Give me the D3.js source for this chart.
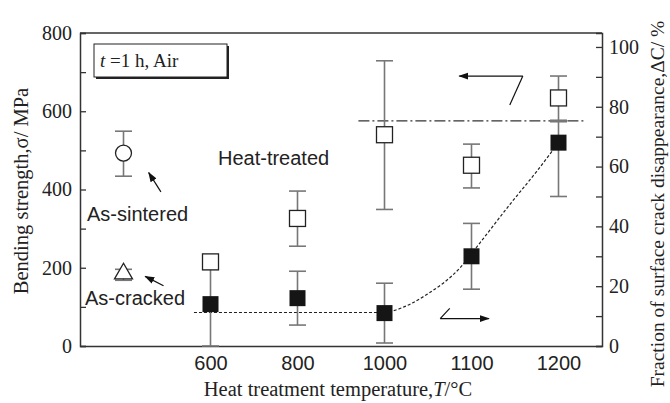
<!DOCTYPE html>
<html lang="en">
<head>
<meta charset="UTF-8">
<title>Bending strength vs heat treatment temperature</title>
<style>
  body { margin: 0; background: #fff; }
  svg text { fill: #222; }
  .serif { font-family: "Liberation Serif", "Times New Roman", serif; }
  .sans { font-family: "Liberation Sans", Arial, sans-serif; }
</style>
</head>
<body>
<div id="chart"></div>
<script src="https://cdn.jsdelivr.net/npm/d3@7"></script>
<script>
// x positions are category slots: 0 = as-sintered / as-cracked, 1..5 = heat treatment temperatures
const tempLabels = ["600", "800", "1000", "1100", "1200"];
const tempSlots = [1, 2, 3, 4, 5];

// heat-treated bending strength (open squares, left axis, MPa)
const strength = [215, 326, 540, 462, 634];
const strengthLo = [196, 255, 349, 404, 577];
const strengthHi = [232, 396, 729, 516, 690];

// fraction of surface crack disappearance (filled squares, right axis, %)
const fraction = [14, 16, 11, 30, 68];
const fractionLo = [0, 7, 1, 19, 50];
const fractionHi = [30, 25, 21, 41, 75];

// reference samples (slot 0)
const sintered = { v: 493, lo: 434, hi: 549 };
const cracked = { v: 185, lo: 168, hi: 196 };

// trend line of the crack fraction
const trendSlot = [0.81, 3.0, 3.1, 3.49, 3.87, 4.1, 4.44, 4.75, 5.0];
const trendVal = [11.2, 11.2, 11.8, 17.3, 26.2, 34.6, 47.3, 58.4, 68];

// saturation level (dash-dot, right axis)
const levelVal = 75.3;
const levelSlots = [2.7, 5.3];

const W = 670, H = 403;
const PL = 80, PR = 602, PT = 33, PB = 346;

const svg = d3.select("#chart").append("svg")
  .attr("width", W).attr("height", H);

const x = d3.scaleLinear().domain([-0.5, 5.5]).range([PL, PR]);
const yL = d3.scaleLinear().domain([0, 800]).range([PB, PT]);
const yR = d3.scaleLinear().domain([0, 104.67]).range([PB, PT]);

const AXIS = "#333";
const BAR = "#777";

// axes
const gL = svg.append("g").attr("transform", `translate(${PL},0)`)
  .call(d3.axisLeft(yL).tickValues(d3.range(0, 801, 100)).tickSize(-6).tickPadding(8)
    .tickFormat(d => d % 200 === 0 ? d : ""));
const gR = svg.append("g").attr("transform", `translate(${PR},0)`)
  .call(d3.axisRight(yR).tickValues(d3.range(0, 101, 10)).tickSize(-6).tickPadding(7)
    .tickFormat(d => d % 20 === 0 ? d : ""));
[gL, gR].forEach(g => {
  g.select(".domain").attr("stroke", AXIS).attr("stroke-width", 1.5);
  g.selectAll(".tick line").attr("stroke", AXIS).attr("stroke-width", 1.3);
  g.selectAll(".tick text").attr("class", "serif").attr("font-size", 20).attr("fill", "#222");
});
const gB = svg.append("g").attr("transform", `translate(0,${PB})`)
  .call(d3.axisBottom(x).tickValues(tempSlots).tickSize(0).tickPadding(10)
    .tickFormat((d, i) => tempLabels[i]));
gB.select(".domain").attr("stroke", AXIS).attr("stroke-width", 1.5);
gB.selectAll(".tick text").attr("class", "sans").attr("font-size", 20).attr("fill", "#222");
svg.append("line").attr("x1", PL).attr("x2", PR).attr("y1", PT).attr("y2", PT)
  .attr("stroke", AXIS).attr("stroke-width", 1.5);

// axis titles
svg.append("text").attr("class", "serif").attr("font-size", 20.5)
  .attr("text-anchor", "middle")
  .attr("transform", `translate(21,191) rotate(-90)`).attr("dy", "0.35em")
  .text("Bending strength,σ/ MPa");
svg.append("text").attr("class", "serif").attr("font-size", 19.5)
  .attr("text-anchor", "middle")
  .attr("transform", `translate(657,204) rotate(-90)`).attr("dy", "0.35em")
  .text("Fraction of surface crack disappearance,ΔC/ %");
const xt = svg.append("text").attr("class", "serif").attr("font-size", 20.5)
  .attr("text-anchor", "middle").attr("x", 338).attr("y", 396);
xt.append("tspan").text("Heat treatment temperature,");
xt.append("tspan").attr("font-style", "italic").text("T");
xt.append("tspan").text("/°C");

// lines
const line = d3.line().x(d => x(d[0])).y(d => yR(d[1])).curve(d3.curveMonotoneX);
svg.append("path").datum(trendSlot.map((s, i) => [s, trendVal[i]]))
  .attr("d", line).attr("fill", "none").attr("stroke", "#222")
  .attr("stroke-width", 1.2).attr("stroke-dasharray", "3,2");
svg.append("line")
  .attr("x1", x(levelSlots[0])).attr("x2", x(levelSlots[1]))
  .attr("y1", yR(levelVal)).attr("y2", yR(levelVal))
  .attr("stroke", "#333").attr("stroke-width", 1.2).attr("stroke-dasharray", "11,3,2,3");

// error bars
function errBar(cx, y0, y1) {
  const g = svg.append("g").attr("stroke", BAR).attr("stroke-width", 1.6);
  g.append("line").attr("x1", cx).attr("x2", cx).attr("y1", y0).attr("y2", y1);
  [y0, y1].forEach(yy => g.append("line").attr("x1", cx - 8.5).attr("x2", cx + 8.5)
    .attr("y1", yy).attr("y2", yy));
}
tempSlots.forEach((s, i) => errBar(x(s), yL(strengthLo[i]), yL(strengthHi[i])));
tempSlots.forEach((s, i) => errBar(x(s), yR(fractionLo[i]), yR(fractionHi[i])));
errBar(x(0), yL(sintered.lo), yL(sintered.hi));
errBar(x(0), yL(cracked.lo), yL(cracked.hi));

// markers
const SQ = 16;
svg.selectAll("rect.open").data(tempSlots).join("rect").attr("class", "open")
  .attr("x", d => x(d) - SQ / 2).attr("y", (d, i) => yL(strength[i]) - SQ / 2)
  .attr("width", SQ).attr("height", SQ)
  .attr("fill", "#fff").attr("stroke", "#222").attr("stroke-width", 1.3);
svg.selectAll("rect.fill").data(tempSlots).join("rect").attr("class", "fill")
  .attr("x", d => x(d) - SQ / 2).attr("y", (d, i) => yR(fraction[i]) - SQ / 2)
  .attr("width", SQ).attr("height", SQ).attr("fill", "#151515");
svg.append("circle").attr("cx", x(0)).attr("cy", yL(sintered.v)).attr("r", 8)
  .attr("fill", "#fff").attr("stroke", "#222").attr("stroke-width", 1.3);
svg.append("path").attr("d", d3.symbol(d3.symbolTriangle, 140)())
  .attr("transform", `translate(${x(0)},${yL(cracked.v)})`)
  .attr("fill", "#fff").attr("stroke", "#222").attr("stroke-width", 1.3);

// arrows
svg.append("defs").append("marker").attr("id", "head")
  .attr("viewBox", "0 0 10 10").attr("refX", 9).attr("refY", 5)
  .attr("markerWidth", 10).attr("markerHeight", 10).attr("markerUnits", "userSpaceOnUse")
  .attr("orient", "auto")
  .append("path").attr("d", "M0,1.5L10,5L0,8.5Z").attr("fill", "#111");
function arrow(s0, v0, s1, v1, y) {
  svg.append("line").attr("x1", x(s0)).attr("y1", y(v0)).attr("x2", x(s1)).attr("y2", y(v1))
    .attr("stroke", "#111").attr("stroke-width", 1.2).attr("marker-end", "url(#head)");
}
function stroke(s0, v0, s1, v1, y) {
  svg.append("line").attr("x1", x(s0)).attr("y1", y(v0)).attr("x2", x(s1)).attr("y2", y(v1))
    .attr("stroke", "#111").attr("stroke-width", 1.2);
}
arrow(4.59, 690, 3.86, 690, yL);
stroke(4.59, 690, 4.44, 616, yL);
arrow(3.64, 70, 4.2, 70, yL);
stroke(3.64, 70, 3.75, 96, yL);
arrow(0.43, 394, 0.29, 443, yL);
arrow(0.46, 154, 0.25, 178, yL);

// annotations
svg.append("text").attr("class", "sans").attr("font-size", 20).attr("x", 218).attr("y", 165)
  .text("Heat-treated");
svg.append("text").attr("class", "sans").attr("font-size", 20).attr("x", 87).attr("y", 221)
  .text("As-sintered");
svg.append("text").attr("class", "sans").attr("font-size", 20).attr("x", 85).attr("y", 305)
  .text("As-cracked");

// condition box
svg.append("rect").attr("x", 96).attr("y", 46).attr("width", 133).attr("height", 33).attr("fill", "#222");
svg.append("rect").attr("x", 94).attr("y", 44).attr("width", 133).attr("height", 33)
  .attr("fill", "#fff").attr("stroke", "#222").attr("stroke-width", 1);
const bt = svg.append("text").attr("class", "serif").attr("font-size", 19).attr("x", 100).attr("y", 67);
bt.append("tspan").attr("font-style", "italic").text("t");
bt.append("tspan").text(" =1 h, Air");
</script>
</body>
</html>
